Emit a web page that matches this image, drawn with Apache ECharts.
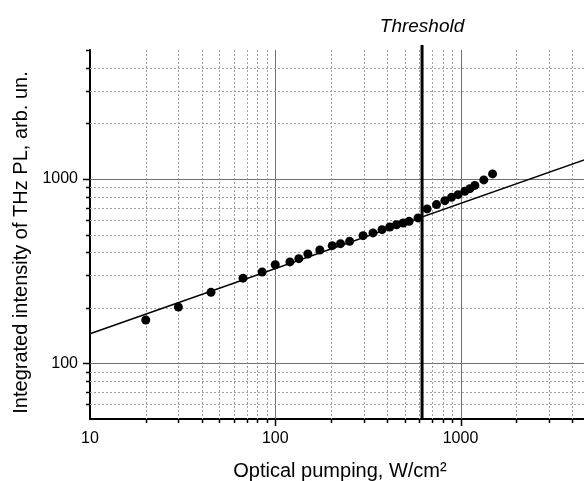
<!DOCTYPE html>
<html>
<head>
<meta charset="utf-8">
<script src="https://cdn.jsdelivr.net/npm/echarts@6/dist/echarts.min.js"></script>
<style>
  html, body { margin: 0; padding: 0; background: #fff; }
  #chart { width: 584px; height: 481px; }
</style>
</head>
<body>
<div id="chart"></div>
<script>
// measured points
const pumping = [20, 30, 45, 67, 85, 100, 120, 134, 150, 174, 203, 225, 252, 298, 337, 377, 415, 451, 490, 528,
  590, 660, 742, 823, 894, 970, 1055, 1123, 1195, 1336, 1489]
const intensity = [172, 202, 243, 290, 313, 343, 355, 370, 392, 412, 435, 446, 459, 493, 510, 531, 549, 565, 577, 589,
  615, 688, 726, 763, 795, 822, 857, 886, 923, 988, 1065]

// power-law fit below threshold, drawn across the whole range
const fitX = [10, 5000]
const fitY = [145, 1300]

const thresholdX = 620
const thresholdY = [50, 5320]

const xMin = 10
const xMax = 5000
const yMin = 50
const yMax = 5000

const xMajor = [100, 1000]
const xMinor = [20, 30, 40, 50, 60, 70, 80, 90, 200, 300, 400, 500, 600, 700, 800, 900, 2000, 3000, 4000]
const yMajor = [100, 1000]
const yMinor = [60, 70, 80, 90, 200, 300, 400, 500, 600, 700, 800, 900, 2000, 3000, 4000, 5000]

const FONT = 'Liberation Sans, Arial, sans-serif'

const chart = echarts.init(document.getElementById('chart'))

const decadeLabel = (v) => {
  const l = Math.log10(v)
  return Math.abs(l - Math.round(l)) < 1e-6 ? String(Math.round(v)) : ''
}

const gridStyle = (major) => major
  ? { stroke: '#707070', lineWidth: 1 }
  : { stroke: '#a0a0a0', lineWidth: 1, lineDash: [2, 2] }

const renderVertical = (params, api) => {
  const cs = params.coordSys
  const v = api.value(0)
  const major = api.value(2) === 1
  const x = Math.round(api.coord([v, yMin])[0]) + 0.5
  const bottom = cs.y + cs.height
  return {
    type: 'group',
    children: [
      { type: 'line', shape: { x1: x, y1: cs.y, x2: x, y2: bottom }, style: gridStyle(major) },
      { type: 'line', shape: { x1: x, y1: bottom, x2: x, y2: bottom + (major ? 7 : 4) }, style: { stroke: '#000', lineWidth: 1.5 } },
    ],
  }
}

const renderHorizontal = (params, api) => {
  const cs = params.coordSys
  const v = api.value(1)
  const major = api.value(2) === 1
  const y = Math.round(api.coord([xMin, v])[1]) + 0.5
  const children = [
    { type: 'line', shape: { x1: cs.x - (major ? 7 : 4), y1: y, x2: cs.x, y2: y }, style: { stroke: '#000', lineWidth: 1.5 } },
  ]
  if (v < yMax) {
    children.push({ type: 'line', shape: { x1: cs.x, y1: y, x2: cs.x + cs.width, y2: y }, style: gridStyle(major) })
  }
  return { type: 'group', children }
}

const vData = xMajor.map(v => [v, 100, 1]).concat(xMinor.map(v => [v, 100, 0]))
const hData = yMajor.map(v => [100, v, 1]).concat(yMinor.map(v => [100, v, 0]))

chart.setOption({
  animation: false,
  backgroundColor: '#fff',
  textStyle: { fontFamily: FONT },
  grid: { left: 90, top: 50, width: 500, height: 369, containLabel: false, outerBoundsMode: 'none' },
  xAxis: {
    type: 'log',
    logBase: 10,
    min: xMin,
    max: xMax,
    axisLine: { lineStyle: { color: '#000', width: 2 } },
    axisTick: { show: false },
    splitLine: { show: false },
    axisLabel: { formatter: decadeLabel, margin: 12, fontSize: 16, color: '#000', fontFamily: FONT },
    name: 'Optical pumping, W/cm²',
    nameLocation: 'middle',
    nameGap: 42,
    nameTextStyle: { fontSize: 20, color: '#000', fontFamily: FONT },
  },
  yAxis: {
    type: 'log',
    logBase: 10,
    min: yMin,
    max: yMax,
    axisLine: { lineStyle: { color: '#000', width: 2 } },
    axisTick: { show: false },
    splitLine: { show: false },
    axisLabel: { formatter: decadeLabel, margin: 12, fontSize: 16, color: '#000', fontFamily: FONT },
    name: 'Integrated intensity of THz PL, arb. un.',
    nameLocation: 'middle',
    nameGap: 56,
    nameTextStyle: { fontSize: 20, color: '#000', fontFamily: FONT, padding: [0, 16, 0, 0] },
  },
  series: [
    {
      type: 'custom',
      renderItem: renderVertical,
      data: vData,
      encode: { x: 0, y: 1 },
      silent: true,
      z: 1,
    },
    {
      type: 'custom',
      renderItem: renderHorizontal,
      data: hData,
      encode: { x: 0, y: 1 },
      silent: true,
      z: 1,
    },
    {
      type: 'line',
      data: fitX.map((x, i) => [x, fitY[i]]),
      symbol: 'none',
      lineStyle: { color: '#000', width: 1.5 },
      z: 3,
    },
    {
      type: 'scatter',
      data: pumping.map((x, i) => [x, intensity[i]]),
      symbol: 'circle',
      symbolSize: 9,
      itemStyle: { color: '#000', opacity: 1 },
      z: 4,
    },
    {
      type: 'line',
      clip: false,
      symbol: 'circle',
      symbolSize: 0,
      showSymbol: true,
      lineStyle: { color: '#000', width: 3 },
      data: [
        [thresholdX, thresholdY[0]],
        {
          value: [thresholdX, thresholdY[1]],
          label: {
            show: true,
            position: 'top',
            distance: 9,
            formatter: 'Threshold',
            fontSize: 19,
            fontStyle: 'italic',
            color: '#000',
            fontFamily: FONT,
          },
        },
      ],
      z: 5,
    },
  ],
})
</script>
</body>
</html>
